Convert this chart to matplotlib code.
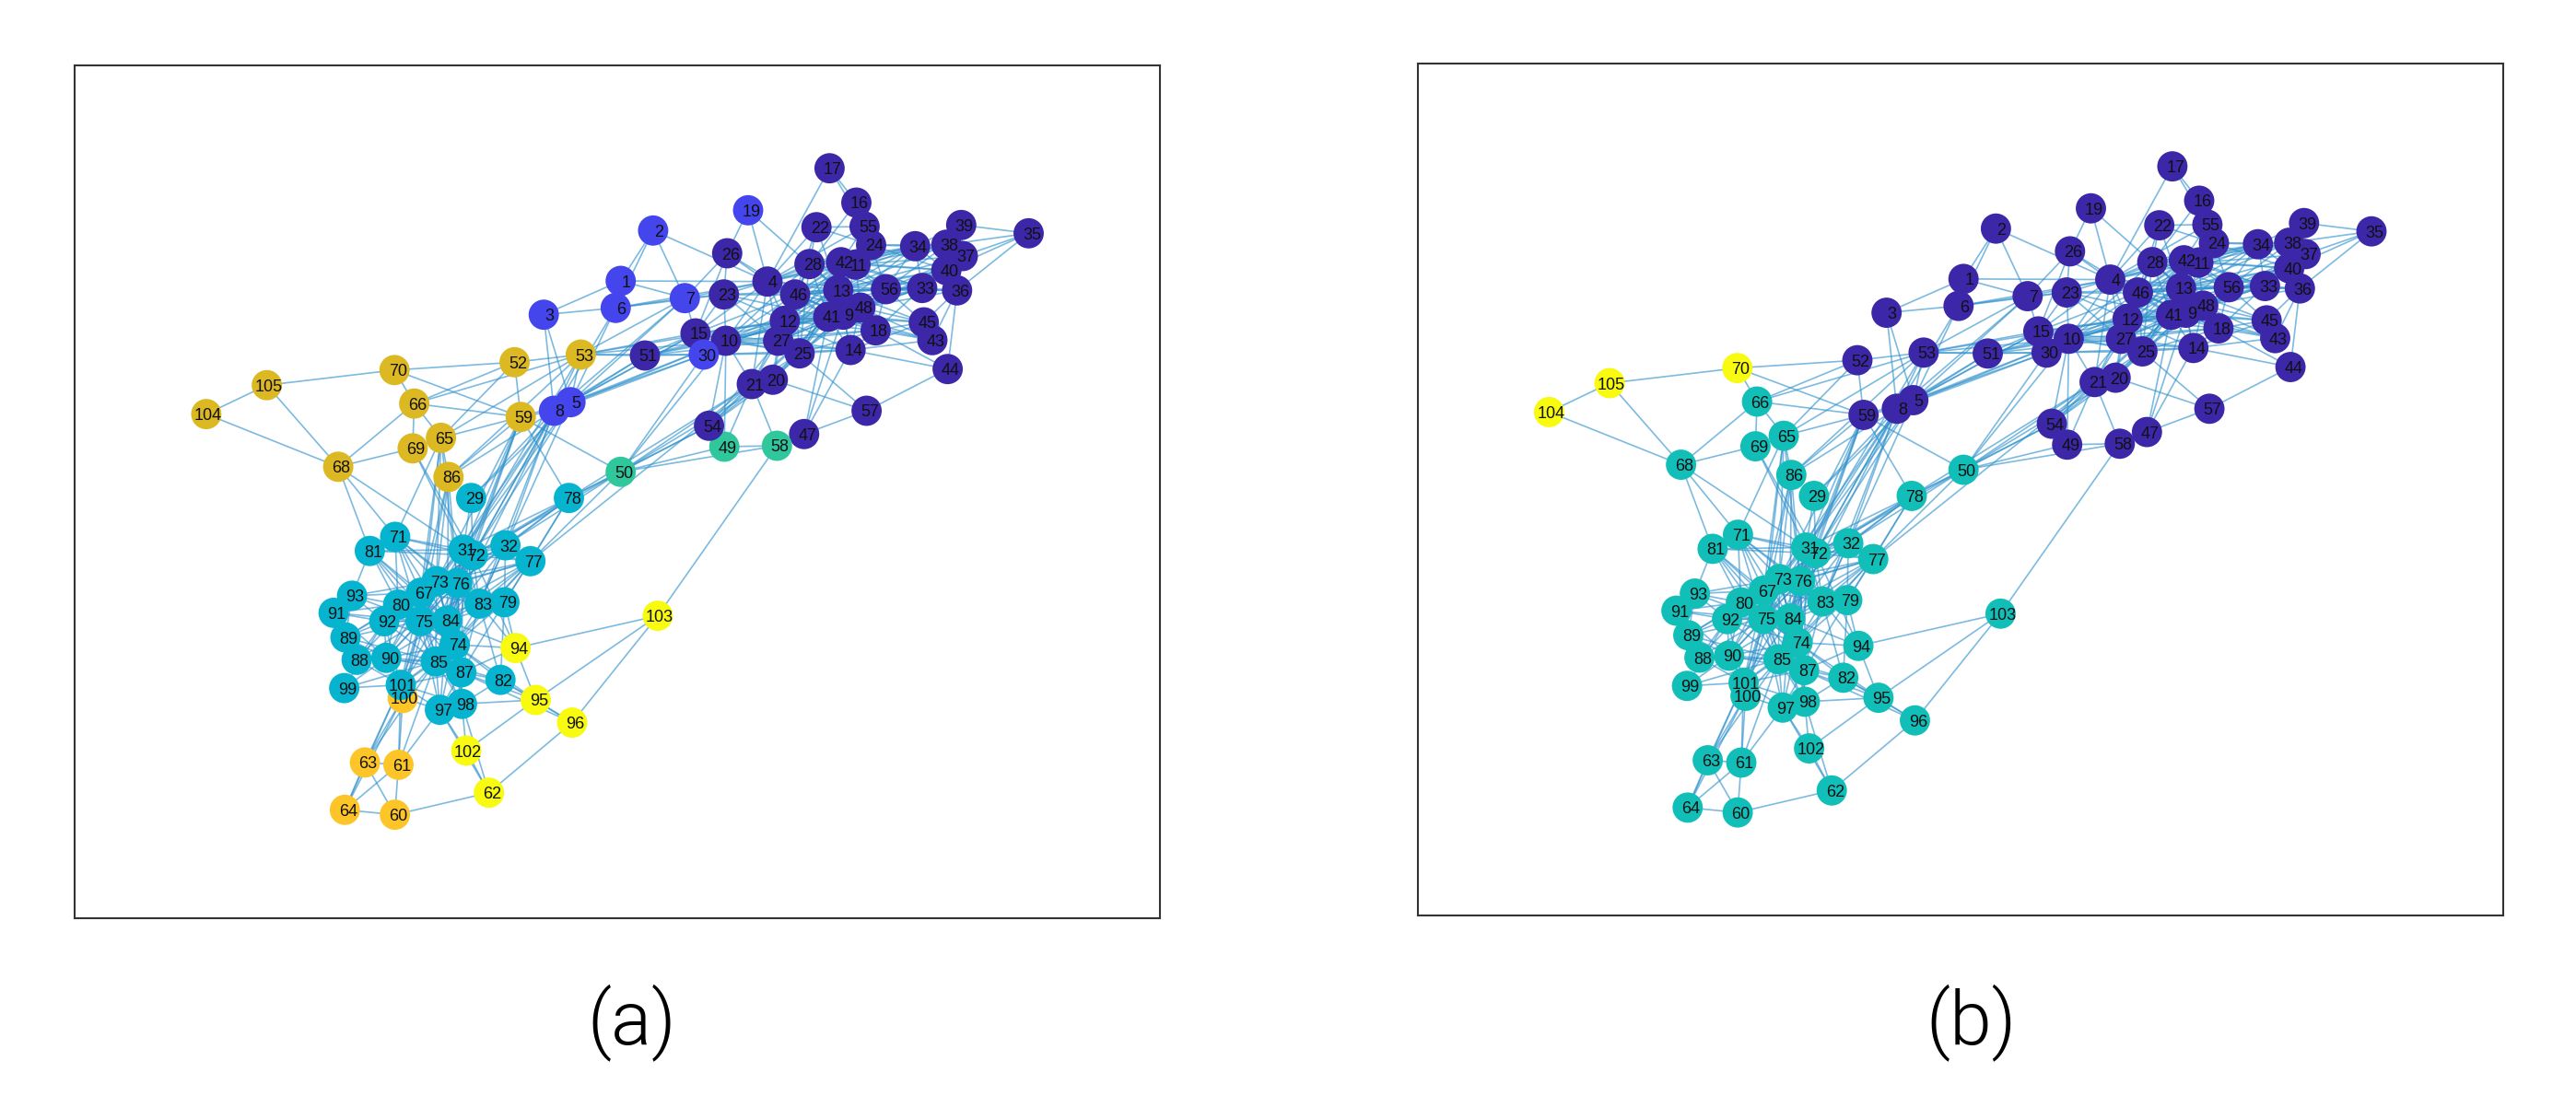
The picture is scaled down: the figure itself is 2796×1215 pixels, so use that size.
import matplotlib
matplotlib.use("Agg")
import matplotlib.pyplot as plt
from matplotlib.collections import LineCollection

# node layout, node 1 first
pos_x = [673.7, 708.9, 590.2, 833.0, 619.2, 668.3, 743.3, 601.3, 915.2, 787.9,
         928.6, 851.8, 909.8, 923.2, 754.9, 929.5, 900.4, 950.4, 812.0, 838.8,
         816.0, 886.2, 785.7, 945.5, 867.9, 789.3, 844.6, 878.6, 511.4, 763.8,
         502.9, 548.6, 1000.9, 993.3, 1116.5, 1038.8, 1045.0, 1027.2, 1043.3, 1027.2,
         899.0, 912.9, 1012.0, 1028.6, 1002.7, 863.0, 872.8, 933.9, 786.2, 673.7,
         700.0, 558.5, 630.4, 769.6, 938.4, 961.6, 940.6, 843.3, 565.2, 428.6,
         432.5, 530.7, 396.1, 374.3, 478.6, 449.6, 456.8, 367.1, 447.9, 428.2,
         428.9, 513.2, 473.9, 493.6, 456.4, 496.4, 575.7, 617.5, 547.5, 432.1,
         401.4, 543.2, 520.4, 485.4, 472.9, 486.8, 500.7, 387.1, 375.0, 419.3,
         362.1, 417.1, 382.1, 559.6, 581.4, 621.0, 477.5, 501.4, 373.6, 437.1,
         435.0, 506.1, 713.9, 223.9, 289.6]
pos_y = [305.0, 250.3, 341.7, 305.7, 436.7, 334.3, 323.7, 446.0, 341.7, 370.0,
         287.3, 348.3, 315.0, 380.0, 362.0, 220.0, 182.7, 358.7, 228.3, 412.3,
         417.0, 246.7, 319.7, 266.0, 383.7, 275.0, 370.0, 286.7, 540.7, 385.0,
         596.8, 592.1, 312.7, 267.3, 253.3, 315.3, 278.0, 265.7, 244.3, 293.3,
         344.0, 284.7, 369.3, 400.7, 350.0, 319.7, 471.3, 334.0, 485.0, 512.3,
         386.0, 393.3, 385.0, 462.3, 246.0, 314.0, 446.0, 484.0, 452.7, 884.6,
         830.4, 860.7, 827.9, 879.3, 475.4, 438.2, 643.6, 506.8, 486.8, 401.8,
         582.9, 602.9, 631.1, 700.0, 674.3, 633.2, 609.3, 540.7, 653.9, 656.4,
         598.2, 738.2, 655.4, 673.9, 718.2, 517.9, 730.0, 716.4, 692.1, 714.3,
         665.4, 674.6, 646.8, 703.6, 760.0, 784.6, 770.7, 764.3, 747.1, 757.9,
         743.6, 815.0, 668.6, 449.6, 418.2]

# edges, grouped by part of the network
edges_upper_left = [
    (1, 2), (2, 6), (2, 7), (2, 4), (1, 3), (3, 6), (1, 4), (1, 7), (6, 7), (6, 23), (6, 4), (3, 5),
    (3, 8), (6, 5), (6, 8), (19, 26), (19, 4), (19, 13), (26, 4), (26, 23), (26, 7), (26, 46), (26, 15),
    (17, 16), (17, 55), (17, 4), (16, 55), (16, 28), (22, 4), (22, 28), (22, 24), (22, 13), (22, 55),
    (22, 46), (7, 23), (7, 4), (7, 15), (7, 5), (7, 8), (7, 53), (23, 4), (23, 46), (23, 12), (23, 13),
    (23, 27), (23, 41), (23, 15),
]
edges_upper_right = [
    (35, 39), (35, 38), (35, 37), (35, 40), (35, 36), (39, 38), (39, 37), (39, 34), (39, 40), (38, 37),
    (38, 40), (38, 36), (38, 34), (38, 33), (38, 56), (38, 24), (38, 11), (38, 42), (38, 13), (37, 40),
    (37, 36), (37, 34), (37, 33), (37, 56), (37, 11), (37, 13), (40, 36), (40, 33), (40, 56), (40, 34),
    (40, 24), (40, 11), (40, 42), (40, 13), (40, 48), (40, 9), (40, 41), (40, 46), (36, 33), (36, 56),
    (36, 45), (36, 44), (36, 43), (36, 48), (36, 13), (34, 24), (34, 11), (34, 42), (34, 13), (34, 56),
    (34, 33), (34, 28), (34, 4), (34, 46), (34, 41), (33, 56), (33, 48), (33, 13), (33, 9), (33, 41),
    (33, 18), (33, 12), (56, 13), (56, 48), (56, 11), (56, 42), (56, 24), (56, 41), (56, 18), (56, 45),
    (45, 48), (45, 18), (45, 9), (45, 41), (45, 13), (45, 43), (45, 14), (43, 18), (43, 48), (43, 14),
    (43, 9), (43, 41), (44, 18), (44, 14), (44, 57),
]
edges_upper_core = [
    (57, 20), (57, 25), (57, 47), (47, 14), (47, 41), (47, 9), (47, 58), (58, 21), (58, 49), (49, 54),
    (49, 21), (49, 10), (54, 21), (54, 20), (54, 25), (54, 27), (54, 41), (54, 10), (21, 20), (21, 10),
    (21, 27), (21, 25), (21, 12), (21, 41), (21, 4), (20, 27), (20, 25), (20, 12), (20, 41), (20, 9),
    (14, 25), (14, 30), (14, 41), (14, 9), (14, 48), (14, 18), (14, 13), (14, 27), (14, 12), (14, 10),
    (30, 10), (30, 15), (30, 5), (30, 8), (30, 12), (30, 25), (51, 53), (51, 10), (51, 15), (51, 30),
    (51, 12), (51, 5), (51, 8), (51, 27), (51, 41), (53, 10), (53, 15), (53, 30), (53, 12), (15, 4),
    (15, 10), (15, 12), (15, 27), (15, 41), (15, 46), (15, 25), (10, 4), (10, 12), (10, 27), (10, 46),
    (10, 13), (10, 41), (10, 9), (10, 48), (10, 18), (10, 25), (10, 28), (10, 23), (12, 46), (12, 13),
    (12, 41), (12, 9), (12, 48), (12, 28), (12, 42), (12, 4), (12, 27), (12, 18), (12, 11), (12, 56),
    (27, 46), (27, 41), (27, 13), (27, 9), (27, 48), (27, 25), (27, 18), (27, 4), (27, 42), (27, 28),
    (27, 11), (25, 41), (25, 13), (25, 9), (25, 48), (25, 18), (25, 46), (25, 42), (25, 12), (25, 11),
    (25, 28), (4, 46), (4, 28), (4, 13), (4, 42), (4, 11), (4, 41), (4, 9), (4, 48), (4, 24), (4, 55),
    (4, 56), (4, 12), (46, 28), (46, 13), (46, 42), (46, 11), (46, 41), (46, 9), (46, 48), (46, 56),
    (46, 18), (46, 33), (46, 24), (28, 42), (28, 13), (28, 11), (28, 24), (28, 41), (28, 48), (28, 33),
    (28, 56), (42, 11), (42, 13), (42, 24), (42, 55), (42, 41), (42, 9), (42, 48), (42, 33), (11, 24),
    (11, 55), (11, 13), (11, 41), (11, 9), (11, 48), (11, 33), (13, 41), (13, 9), (13, 48), (13, 24),
    (13, 18), (41, 9), (41, 48), (41, 18), (9, 48), (9, 18), (48, 18), (24, 55),
]
edges_middle = [
    (5, 8), (5, 53), (5, 10), (5, 15), (5, 59), (8, 59), (8, 53), (8, 10), (8, 15), (8, 86), (8, 31),
    (8, 72), (8, 32), (8, 76), (8, 73), (8, 29), (8, 84), (8, 83), (5, 29), (5, 31), (5, 72), (5, 83),
    (59, 65), (59, 66), (59, 70), (59, 52), (59, 50), (59, 78), (59, 86), (59, 73), (59, 31), (59, 72),
    (59, 76), (59, 84), (52, 53), (53, 31), (53, 86), (53, 65), (53, 66), (52, 65), (52, 66), (52, 70),
    (66, 70), (66, 65), (66, 69), (66, 68), (65, 71), (65, 76), (65, 73), (65, 67), (65, 75), (69, 68),
    (69, 31), (69, 72), (68, 81), (68, 71), (68, 31), (68, 105), (68, 104), (104, 105), (105, 70),
    (86, 73), (86, 76), (86, 65), (86, 67), (86, 84), (86, 75), (29, 31), (29, 72),
    (50, 78), (50, 32), (50, 77), (50, 72), (50, 21), (50, 54), (50, 20), (50, 10), (50, 49), (50, 58),
    (50, 30), (78, 32), (78, 77), (78, 72), (78, 31), (78, 76), (78, 73), (78, 79), (78, 21), (78, 54),
    (77, 21), (58, 103),
]
edges_lower = [
    (32, 77), (32, 72), (32, 31), (32, 76), (32, 79), (32, 83), (32, 84), (77, 72), (77, 31), (77, 76),
    (77, 73), (77, 79), (77, 83), (77, 84), (77, 75), (77, 67), (77, 74), (77, 85), (71, 81), (71, 31),
    (71, 72), (71, 76), (71, 67), (71, 73), (71, 84), (71, 75), (71, 80), (71, 83), (81, 31), (81, 72),
    (81, 93), (81, 67), (81, 80), (81, 75), (81, 84), (81, 74), (93, 91), (93, 92), (93, 73), (93, 67),
    (93, 80), (93, 89), (93, 75), (91, 89), (91, 92), (91, 80), (91, 75), (91, 90), (91, 88), (89, 92),
    (89, 88), (89, 90), (89, 75), (89, 80), (89, 85), (89, 67), (88, 90), (88, 92), (88, 75), (88, 85),
    (88, 101), (88, 67), (99, 90), (99, 101), (99, 85), (99, 92), (90, 85), (90, 87), (90, 75), (90, 92),
    (90, 80), (90, 67), (90, 73), (90, 84), (90, 101), (90, 74), (90, 76), (92, 75), (92, 80), (92, 67),
    (92, 73), (92, 85), (92, 84), (92, 74), (92, 101), (92, 76), (80, 67), (80, 75), (80, 73), (80, 84),
    (80, 85), (80, 76), (80, 74), (67, 73), (67, 76), (67, 75), (67, 84), (67, 74), (67, 85), (67, 87),
    (67, 101), (67, 83), (67, 31), (67, 72), (67, 32), (73, 76), (73, 75), (73, 84), (73, 83), (73, 74),
    (73, 85), (73, 87), (73, 31), (73, 72), (73, 32), (73, 101), (73, 100), (76, 84), (76, 75), (76, 83),
    (76, 74), (76, 85), (76, 87), (76, 31), (76, 72), (76, 79), (76, 101), (76, 98), (75, 84), (75, 74),
    (75, 85), (75, 87), (75, 101), (75, 100), (75, 97), (75, 98), (75, 83), (84, 74), (84, 85), (84, 87),
    (84, 83), (84, 101), (84, 97), (84, 98), (84, 94), (84, 79), (74, 85), (74, 87), (74, 82), (74, 94),
    (74, 83), (74, 98), (74, 97), (74, 101), (74, 79), (74, 95), (85, 87), (85, 101), (85, 100), (85, 97),
    (85, 98), (85, 82), (85, 63), (85, 61), (87, 82), (87, 94), (87, 95), (87, 96), (87, 97), (87, 98),
    (87, 101), (82, 95), (82, 96), (82, 98), (82, 79), (82, 83), (83, 79), (83, 31), (83, 72), (83, 94),
    (83, 87), (83, 82), (79, 94), (79, 87), (31, 72), (31, 84), (31, 75), (31, 74), (31, 85), (31, 87),
    (72, 84), (72, 75), (72, 74), (72, 85), (72, 94), (101, 100), (101, 97), (101, 98), (101, 63),
    (101, 61), (101, 64), (100, 97), (100, 63), (100, 61), (100, 64), (97, 98), (97, 102), (97, 61),
    (97, 62), (98, 95), (98, 102), (98, 62), (102, 95), (102, 62), (95, 96), (95, 94), (95, 103),
    (96, 103), (96, 62), (94, 103), (60, 62), (60, 61), (60, 64), (60, 63), (61, 63), (61, 64), (63, 64),
]

# communities, panel (a)
a_blue = [1, 2, 3, 5, 6, 7, 8, 19, 30]
a_gold = [52, 53, 59, 65, 66, 68, 69, 70, 86, 104, 105]
a_green = [49, 50, 58]
a_cyan = [29, 31, 32, 67, 71, 72, 73, 74, 75, 76, 77, 78, 79, 80, 81, 82, 83, 84, 85, 87, 88, 89,
          90, 91, 92, 93, 97, 98, 99, 101]
a_yellow = [62, 94, 95, 96, 102, 103]
a_orange = [60, 61, 63, 64, 100]

# communities, panel (b)
b_teal = [29, 31, 32, 50, 60, 61, 62, 63, 64, 65, 66, 67, 68, 69] + list(range(71, 104))
b_yellow = [70, 104, 105]

PURPLE = "#3b27a8"
all_edges = sorted({tuple(sorted(e)) for e in edges_upper_left + edges_upper_right + edges_upper_core
                    + edges_middle + edges_lower})


def node_colors(groups):
    colors = [PURPLE] * len(pos_x)
    for members, color in groups:
        for n in members:
            colors[n - 1] = color
    return colors


def draw_panel(left, top, right, bottom, colors):
    W, H = 2796.0, 1215.0
    ax = fig.add_axes([left / W, 1 - bottom / H, (right - left) / W, (bottom - top) / H])
    ax.set_xlim(81, 1259.5)
    ax.set_ylim(996.5, 71)
    ax.set_xticks([])
    ax.set_yticks([])
    for s in ax.spines.values():
        s.set_linewidth(0.75)
        s.set_color("#333333")
    segs = [[(pos_x[a - 1], pos_y[a - 1]), (pos_x[b - 1], pos_y[b - 1])] for a, b in all_edges]
    ax.add_collection(LineCollection(segs, colors="#2d90cc", linewidths=0.6, alpha=0.62, zorder=1))
    ax.scatter(pos_x, pos_y, s=140, c=colors, linewidths=0, zorder=2)
    # labels sit a bit right of centre, more so for the short ones
    shift = {1: 6, 2: 3.5, 3: 1.8}
    for i in range(len(pos_x)):
        label = str(i + 1)
        ax.text(pos_x[i] + shift[len(label)], pos_y[i] + 2, label, fontsize=6.5, color="#111111",
                family="Liberation Sans", ha="center", va="center", zorder=3)
    return ax


fig = plt.figure(figsize=(13.98, 6.075), dpi=200)
colors_a = node_colors([(a_blue, "#4545ee"), (a_gold, "#dcb822"), (a_green, "#30c79c"),
                        (a_cyan, "#07b4d0"), (a_yellow, "#f8fa0f"), (a_orange, "#fdc527")])
colors_b = node_colors([(b_teal, "#12bfb8"), (b_yellow, "#f8fa0f")])
draw_panel(81, 71, 1259.5, 996.5, colors_a)
draw_panel(1538.5, 69, 2717, 994, colors_b)

for cx, cap in [(685.5, "(a)"), (2140, "(b)")]:
    fig.text(cx / 2796, 1 - 1133 / 1215, cap, fontsize=29.5, family="Roboto", weight=300,
             ha="center", va="baseline", color="black")

fig.savefig("out.png", dpi=200)
